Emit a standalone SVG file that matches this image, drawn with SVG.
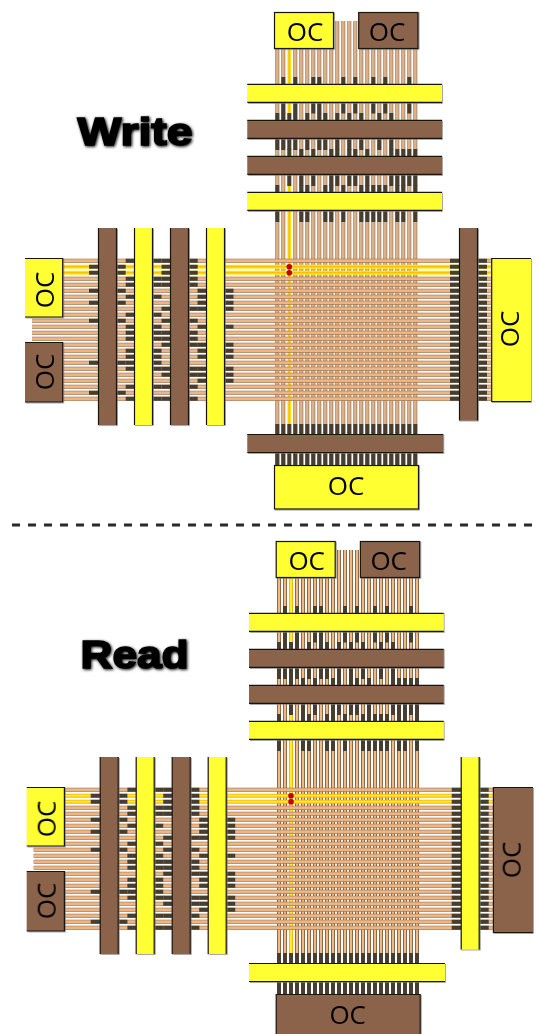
<svg xmlns="http://www.w3.org/2000/svg" xmlns:xlink="http://www.w3.org/1999/xlink" width="540" height="1034" viewBox="0 0 540 1034">
<style>
.write{--ve:#9a7856;--vc:#dcb089;--ye:#ffee22;--yc:#ffbf00}
.read{--ve:#66482c;--vc:#eeb987;--ye:#ffb800;--yc:#fff23a}
.w{fill:none}
.vo{stroke:var(--ve);stroke-width:4}
.vi{stroke:var(--vc);stroke-width:2.6}
.ho{stroke:#8a6642;stroke-width:4}
.hi{stroke:#ecb585;stroke-width:2.9}
.yo{stroke:var(--ye);stroke-width:4}
.yi{stroke:var(--yc);stroke-width:1.8}
.d{stroke:#473e32;stroke-width:4;fill:none}
.y{fill:#ffff33}
.b{fill:#8b634b}
.e{stroke:#141210;stroke-width:1.2;fill:none}
.bar{filter:url(#shade)}
.oc{font-family:"Open Sans","Noto Sans",sans-serif;font-size:26px;fill:#000;text-anchor:middle;filter:url(#soft)}
.title{font-family:"Liberation Sans",Arial,sans-serif;font-weight:700;font-size:39px;fill:#000;stroke:#000;stroke-width:1.6;filter:url(#glow)}
</style>
<defs>
<filter id="shade" x="-5%" y="-5%" width="110%" height="110%"><feDropShadow dx="0.8" dy="0.8" stdDeviation="0.4" flood-color="#777" flood-opacity="0.8"/></filter>
<filter id="soft" x="-20%" y="-20%" width="140%" height="140%"><feGaussianBlur stdDeviation="0.4"/></filter>
<filter id="glow" x="-10%" y="-20%" width="120%" height="140%"><feGaussianBlur in="SourceGraphic" stdDeviation="0.5" result="t"/><feGaussianBlur in="SourceAlpha" stdDeviation="1.4" result="s"/><feOffset in="s" dx="1" dy="1" result="o"/><feMerge><feMergeNode in="o"/><feMergeNode in="t"/></feMerge></filter>
<path id="vw" d="M277.3 49V465M283.3 49V465M295.3 49V465M301.3 49V465M307.3 49V465M313.3 49V465M319.3 49V465M325.3 49V465M331.3 49V465M337.3 21V465M343.3 21V465M349.3 21V465M355.3 21V465M361.3 49V465M367.3 49V465M373.3 49V465M379.3 49V465M385.3 49V465M391.3 49V465M397.3 49V465M403.3 49V465M409.3 49V465M415.3 49V465"/>
<path id="hw" d="M63 260.7H491M63 278.7H491M63 284.7H491M63 290.7H491M63 296.7H491M63 302.7H491M63 308.7H491M63 314.7H491M32 320.7H491M32 326.7H491M32 332.7H491M32 338.7H491M63 344.7H491M63 350.7H491M63 356.7H491M63 362.7H491M63 368.7H491M63 374.7H491M63 380.7H491M63 386.7H491M63 392.7H491M63 398.7H491"/>
<path id="yw" d="M289.3 49V465"/>
<path id="yh" d="M63 266.7H491M63 272.7H491"/>
<g id="wires">
<use href="#vw" class="w vo"/><use href="#vw" class="w vi"/>
<use href="#yw" class="w yo"/><use href="#yw" class="w yi"/>
<use href="#hw" class="w ho"/><use href="#hw" class="w hi"/>
<use href="#yh" class="w yo"/><use href="#yh" class="w yi"/>
<path class="d" d="M283.3 77V113.5M295.3 77V113.5M313.3 77V113.5M319.3 77V113.5M343.3 77V113.5M355.3 77V113.5M373.3 77V113.5M385.3 77V113.5M409.3 77V113.5"/>
<path class="d" d="M277.3 113V150M283.3 113V150M289.3 113V150M295.3 113V150M307.3 113V150M319.3 113V150M325.3 113V150M337.3 113V150M349.3 113V150M361.3 113V150M379.3 113V150M391.3 113V150"/>
<path class="d" d="M289.3 149V186M301.3 149V186M313.3 149V186M331.3 149V186M337.3 149V186M349.3 149V186M355.3 149V186M367.3 149V186M391.3 149V186M397.3 149V186M403.3 149V186M409.3 149V186M415.3 149V186"/>
<path class="d" d="M277.3 185V222M301.3 185V222M307.3 185V222M325.3 185V222M331.3 185V222M343.3 185V222M361.3 185V222M367.3 185V222M373.3 185V222M379.3 185V222M385.3 185V222M397.3 185V222M403.3 185V222M415.3 185V222"/>
<path class="d" stroke-dasharray="4 2" style="stroke-width:41" d="M275.3 444.5H417.3"/>
<path class="d" d="M89 266.7H125.7M89 272.7H125.7M89 290.7H125.7M89 302.7H125.7M89 320.7H125.7M89 362.7H125.7M89 392.7H125.7"/>
<path class="d" d="M125.7 260.7H161.5M125.7 278.7H161.5M125.7 284.7H161.5M125.7 296.7H161.5M125.7 314.7H161.5M125.7 326.7H161.5M125.7 332.7H161.5M125.7 338.7H161.5M125.7 350.7H161.5M125.7 356.7H161.5M125.7 362.7H161.5M125.7 368.7H161.5M125.7 386.7H161.5M125.7 398.7H161.5"/>
<path class="d" d="M161.5 260.7H197.7M161.5 266.7H197.7M161.5 272.7H197.7M161.5 278.7H197.7M161.5 284.7H197.7M161.5 308.7H197.7M161.5 320.7H197.7M161.5 332.7H197.7M161.5 338.7H197.7M161.5 344.7H197.7M161.5 368.7H197.7M161.5 374.7H197.7M161.5 386.7H197.7M161.5 398.7H197.7"/>
<path class="d" d="M197.5 290.7H233.5M197.5 296.7H233.5M197.5 302.7H233.5M197.5 308.7H233.5M197.5 326.7H233.5M197.5 344.7H233.5M197.5 350.7H233.5M197.5 356.7H233.5M197.5 368.7H233.5M197.5 374.7H233.5M197.5 380.7H233.5"/>
<path class="d" stroke-dasharray="4 2" style="stroke-width:37" d="M468.5 258.7V400.7"/>
<circle cx="289.3" cy="266.7" r="2.8" fill="#c00000"/>
<circle cx="289.3" cy="272.7" r="2.8" fill="#c00000"/>
</g>
</defs>
<rect width="540" height="1034" fill="#fff"/>
<g id="connectors">
<g id="write-wires" class="write"><use href="#wires"/></g>
<g id="read-wires" class="read"><use href="#wires" transform="translate(1.7 529)"/></g>
</g>
<g id="write-bar-top-1" class="bar"><rect class="y" x="247.3" y="84.3" width="194.7" height="18"/><path class="e" d="M247.3 84.3H442M247.3 102.3H442"/></g>
<g id="write-bar-top-2" class="bar"><rect class="b" x="247.3" y="120.3" width="194.7" height="18"/><path class="e" d="M247.3 120.3H442M247.3 138.3H442"/></g>
<g id="write-bar-top-3" class="bar"><rect class="b" x="247.3" y="156.3" width="194.7" height="18"/><path class="e" d="M247.3 156.3H442M247.3 174.3H442"/></g>
<g id="write-bar-top-4" class="bar"><rect class="y" x="247.3" y="192.3" width="194.7" height="18"/><path class="e" d="M247.3 192.3H442M247.3 210.3H442"/></g>
<g id="write-bar-bottom" class="bar"><rect class="b" x="247.3" y="434.5" width="196" height="18"/><path class="e" d="M247.3 434.5H443.3M247.3 452.5H443.3"/></g>
<g id="write-bar-left-1" class="bar"><rect class="b" x="98.5" y="228" width="18" height="197"/><path class="e" d="M98.5 228V425M116.5 228V425"/></g>
<g id="write-bar-left-2" class="bar"><rect class="y" x="134.5" y="228" width="18" height="197"/><path class="e" d="M134.5 228V425M152.5 228V425"/></g>
<g id="write-bar-left-3" class="bar"><rect class="b" x="170.5" y="228" width="18" height="197"/><path class="e" d="M170.5 228V425M188.5 228V425"/></g>
<g id="write-bar-left-4" class="bar"><rect class="y" x="206.5" y="228" width="18" height="197"/><path class="e" d="M206.5 228V425M224.5 228V425"/></g>
<g id="write-bar-right" class="bar"><rect class="b" x="459.5" y="228" width="18" height="192.5"/><path class="e" d="M459.5 228V420.5M477.5 228V420.5"/></g>
<g id="write-oc-top-y" class="bar"><rect class="e" style="fill:#ffff33" x="274.5" y="12.5" width="59" height="36"/><text class="oc" x="305" y="41">OC</text></g>
<g id="write-oc-top-b" class="bar"><rect class="e" style="fill:#8b634b" x="358.7" y="12.5" width="59.3" height="36"/><text class="oc" x="387" y="41">OC</text></g>
<g id="write-oc-left-y" class="bar"><path class="y" d="M25 258.5H62.7V317H25Z"/><path class="e" d="M25 258.5H62.7V317H25"/><text class="oc" transform="translate(45 290) rotate(-90)" y="9">OC</text></g>
<g id="write-oc-left-b" class="bar"><path class="b" d="M25 342.5H62.7V402H25Z"/><path class="e" d="M25 342.5H62.7V402H25"/><text class="oc" transform="translate(45 372) rotate(-90)" y="9">OC</text></g>
<g id="write-oc-right" class="bar"><path class="y" d="M531 258.5H491.7V401.5H531Z"/><path class="e" d="M531 258.5H491.7V401.5H531"/><text class="oc" transform="translate(510 329) rotate(-90)" y="9">OC</text></g>
<g id="write-oc-bottom" class="bar"><rect class="e" style="fill:#ffff33" x="274.5" y="465.5" width="144" height="43.5"/><text class="oc" x="346" y="495">OC</text></g>
<g id="write-label"><text class="title" x="77.5" y="145" textLength="115" lengthAdjust="spacingAndGlyphs">Write</text></g>
<path id="divider" d="M12 525H534" fill="none" stroke="#2b2b2b" stroke-width="3" stroke-dasharray="8 8"/>
<g id="read-bar-top-1" class="bar"><rect class="y" x="249" y="613.3" width="194.7" height="18"/><path class="e" d="M249 613.3H443.7M249 631.3H443.7"/></g>
<g id="read-bar-top-2" class="bar"><rect class="b" x="249" y="649.3" width="194.7" height="18"/><path class="e" d="M249 649.3H443.7M249 667.3H443.7"/></g>
<g id="read-bar-top-3" class="bar"><rect class="b" x="249" y="685.3" width="194.7" height="18"/><path class="e" d="M249 685.3H443.7M249 703.3H443.7"/></g>
<g id="read-bar-top-4" class="bar"><rect class="y" x="249" y="721.3" width="194.7" height="18"/><path class="e" d="M249 721.3H443.7M249 739.3H443.7"/></g>
<g id="read-bar-bottom" class="bar"><rect class="y" x="249" y="963.5" width="196" height="18"/><path class="e" d="M249 963.5H445M249 981.5H445"/></g>
<g id="read-bar-left-1" class="bar"><rect class="b" x="100.2" y="757" width="18" height="197"/><path class="e" d="M100.2 757V954M118.2 757V954"/></g>
<g id="read-bar-left-2" class="bar"><rect class="y" x="136.2" y="757" width="18" height="197"/><path class="e" d="M136.2 757V954M154.2 757V954"/></g>
<g id="read-bar-left-3" class="bar"><rect class="b" x="172.2" y="757" width="18" height="197"/><path class="e" d="M172.2 757V954M190.2 757V954"/></g>
<g id="read-bar-left-4" class="bar"><rect class="y" x="208.2" y="757" width="18" height="197"/><path class="e" d="M208.2 757V954M226.2 757V954"/></g>
<g id="read-bar-right" class="bar"><rect class="y" x="461.2" y="757" width="18" height="192.5"/><path class="e" d="M461.2 757V949.5M479.2 757V949.5"/></g>
<g id="read-oc-top-y" class="bar"><rect class="e" style="fill:#ffff33" x="276.2" y="541.5" width="59" height="36"/><text class="oc" x="306.7" y="570">OC</text></g>
<g id="read-oc-top-b" class="bar"><rect class="e" style="fill:#8b634b" x="360.4" y="541.5" width="59.3" height="36"/><text class="oc" x="388.7" y="570">OC</text></g>
<g id="read-oc-left-y" class="bar"><path class="y" d="M26.7 787.5H64.4V846H26.7Z"/><path class="e" d="M26.7 787.5H64.4V846H26.7"/><text class="oc" transform="translate(46.7 819) rotate(-90)" y="9">OC</text></g>
<g id="read-oc-left-b" class="bar"><path class="b" d="M26.7 871.5H64.4V931H26.7Z"/><path class="e" d="M26.7 871.5H64.4V931H26.7"/><text class="oc" transform="translate(46.7 901) rotate(-90)" y="9">OC</text></g>
<g id="read-oc-right" class="bar"><path class="b" d="M533 787.5H493.4V932.5H533Z"/><path class="e" d="M533 787.5H493.4V932.5H533"/><text class="oc" transform="translate(511.7 860) rotate(-90)" y="9">OC</text></g>
<g id="read-oc-bottom" class="bar"><path class="b" d="M276.2 994.5H420.2V1034H276.2Z"/><path class="e" d="M276.2 1034V994.5H420.2V1034"/><text class="oc" x="347.7" y="1024">OC</text></g>
<g id="read-label"><text class="title" x="80.5" y="668" textLength="108" lengthAdjust="spacingAndGlyphs">Read</text></g>
</svg>
